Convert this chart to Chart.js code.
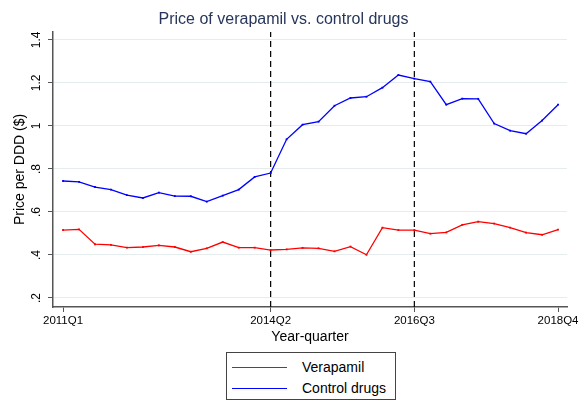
<!DOCTYPE html>
<html>
<head>
<meta charset="utf-8">
<script src="https://cdn.jsdelivr.net/npm/chart.js@4"></script>
<style>
    body { margin: 0; background: #fff; }
    #wrap { position: relative; width: 585px; height: 403px; }
    #legendBox {
        position: absolute; left: 226px; top: 352px; width: 168px; height: 46px;
        border: 1px solid #444; background: #fff;
        font-family: "Liberation Sans", Arial, sans-serif; font-size: 14px; color: #000;
    }
    .row { position: absolute; left: 5px; height: 18px; line-height: 18px; }
    .swatch { position: absolute; left: 0; top: 9px; width: 55px; height: 0; border-top: 1.3px solid; }
    .label { position: absolute; left: 70px; top: 0; white-space: nowrap; }
</style>
</head>
<body>
<div id="wrap">
    <canvas id="chart" width="585" height="403"></canvas>
    <div id="legendBox"></div>
</div>
<script>
// Quarters 2011Q1 .. 2018Q4
const quarters = [
    '2011Q1','2011Q2','2011Q3','2011Q4','2012Q1','2012Q2','2012Q3','2012Q4',
    '2013Q1','2013Q2','2013Q3','2013Q4','2014Q1','2014Q2','2014Q3','2014Q4',
    '2015Q1','2015Q2','2015Q3','2015Q4','2016Q1','2016Q2','2016Q3','2016Q4',
    '2017Q1','2017Q2','2017Q3','2017Q4','2018Q1','2018Q2','2018Q3','2018Q4'
];
const verapamil = [0.516, 0.519, 0.450, 0.447, 0.434, 0.437, 0.445, 0.437,
    0.415, 0.431, 0.460, 0.434, 0.434, 0.423, 0.426, 0.433,
    0.431, 0.417, 0.439, 0.401, 0.527, 0.516, 0.516, 0.499,
    0.505, 0.540, 0.555, 0.546, 0.527, 0.504, 0.494, 0.518];
const controlDrugs = [0.744, 0.740, 0.716, 0.704, 0.678, 0.665, 0.690, 0.674,
    0.673, 0.648, 0.676, 0.704, 0.763, 0.781, 0.938, 1.006,
    1.020, 1.094, 1.130, 1.136, 1.178, 1.237, 1.220, 1.206,
    1.099, 1.127, 1.126, 1.011, 0.978, 0.964, 1.025, 1.099];
const xTickQuarters = ['2011Q1', '2014Q2', '2016Q3', '2018Q4'];
const yTicks = [0.2, 0.4, 0.6, 0.8, 1.0, 1.2, 1.4];
const yTickLabels = ['.2', '.4', '.6', '.8', '1', '1.2', '1.4'];
const markerQuarters = ['2014Q2', '2016Q3'];

const Y_MIN = 0.158, Y_MAX = 1.437;
const FONT = '"Liberation Sans", Arial, sans-serif';

const toPoints = arr => arr.map((v, i) => ({ x: i, y: v }));

const series = [
    { label: 'Verapamil', data: verapamil, color: '#ff0000' },
    { label: 'Control drugs', data: controlDrugs, color: '#0000ff' }
];

const datasets = series.map(s => ({
    label: s.label,
    data: toPoints(s.data),
    borderColor: s.color,
    backgroundColor: s.color,
    borderWidth: 1.3,
    pointStyle: 'rect',
    pointRadius: 1.3,
    pointBorderWidth: 0,
    tension: 0
}));

// vertical dashed reference lines
markerQuarters.forEach(q => {
    const i = quarters.indexOf(q);
    datasets.push({
        label: '_ref',
        data: [{ x: i, y: Y_MIN }, { x: i, y: Y_MAX }],
        borderColor: '#000',
        borderWidth: 1.2,
        borderDash: [6, 4],
        pointRadius: 0,
        tension: 0
    });
});

new Chart(document.getElementById('chart'), {
    type: 'line',
    data: { datasets: datasets },
    options: {
        responsive: false,
        animation: false,
        layout: { padding: { left: 0, right: 18, top: 0, bottom: 56 } },
        plugins: {
            legend: { display: false },
            tooltip: { enabled: false },
            title: {
                display: true,
                text: 'Price of verapamil vs. control drugs',
                color: '#27365a',
                font: { family: FONT, size: 16, weight: 'normal' },
                padding: { top: 10, bottom: 2.8 }
            }
        },
        scales: {
            x: {
                type: 'linear',
                min: -0.63,
                max: 31.56,
                afterBuildTicks: s => {
                    s.ticks = xTickQuarters.map(q => ({ value: quarters.indexOf(q) }));
                },
                afterFit: s => { s.height = 40; },
                ticks: {
                    autoSkip: false,
                    maxRotation: 0,
                    padding: 2,
                    color: '#000',
                    font: { family: FONT, size: 11.5 },
                    callback: v => quarters[v]
                },
                grid: { drawOnChartArea: false, tickLength: 5, tickColor: '#555', tickWidth: 1 },
                border: { color: '#555', width: 1.5 },
                title: {
                    display: true,
                    text: 'Year-quarter',
                    color: '#000',
                    font: { family: FONT, size: 14 },
                    padding: { top: 0, bottom: 1 }
                }
            },
            y: {
                min: Y_MIN,
                max: Y_MAX,
                afterBuildTicks: s => {
                    s.ticks = yTicks.map(v => ({ value: v }));
                },
                afterFit: s => { s.width = 53; },
                ticks: {
                    minRotation: 90,
                    maxRotation: 90,
                    crossAlign: 'center',
                    padding: 3,
                    color: '#000',
                    font: { family: FONT, size: 12 },
                    callback: v => yTickLabels[yTicks.findIndex(t => Math.abs(t - v) < 1e-6)]
                },
                grid: { color: '#e4eced', lineWidth: 1, tickLength: 5, tickColor: '#555' },
                border: { color: '#555', width: 1.5 },
                title: {
                    display: true,
                    text: 'Price per DDD ($)',
                    color: '#000',
                    font: { family: FONT, size: 14 },
                    padding: { top: 12, bottom: 0 }
                }
            }
        }
    }
});

// HTML legend in a framed box
const legendBox = document.getElementById('legendBox');
series.forEach((s, i) => {
    const row = document.createElement('div');
    row.className = 'row';
    row.style.top = (5 + i * 21) + 'px';
    row.innerHTML = '<div class="swatch" style="border-color:' + s.color + '"></div>' +
        '<div class="label">' + s.label + '</div>';
    legendBox.appendChild(row);
});
</script>
</body>
</html>
